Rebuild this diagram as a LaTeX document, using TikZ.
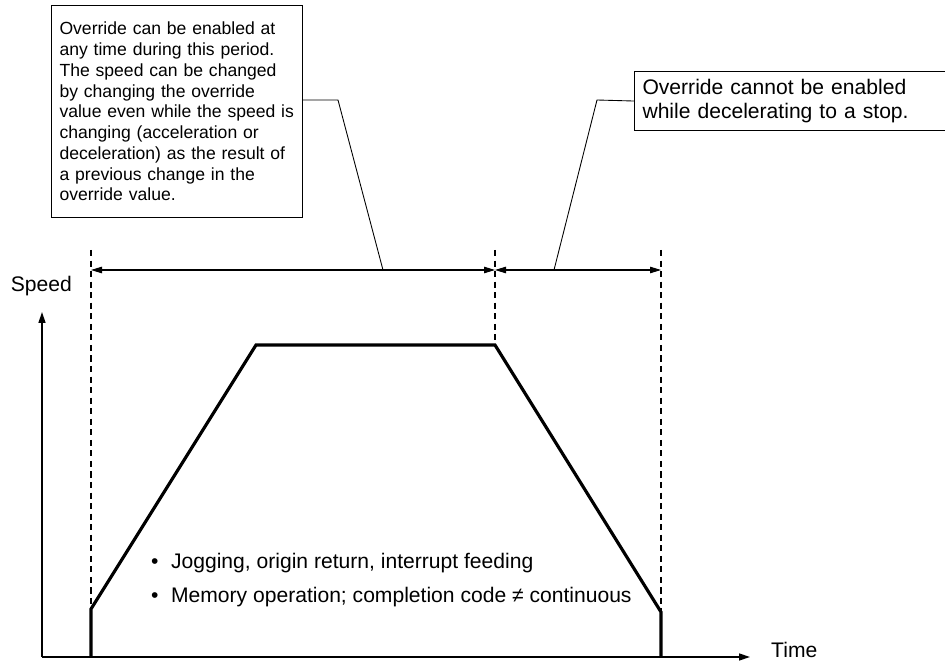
\documentclass[tikz,border=0pt]{standalone}
\usepackage{fontspec}
\setmainfont{Liberation Sans}
\usetikzlibrary{arrows.meta,positioning}

\begin{document}
\begin{tikzpicture}[
  font=\fontsize{12}{13.5}\selectfont,
  note/.style={draw, line width=0.6pt, align=left, anchor=north west, inner xsep=0.16cm},
  guide/.style={line width=0.9pt, dash pattern=on 3.5pt off 2.5pt},
  span/.style={line width=0.6pt, {Triangle[length=2.2mm,width=1.3mm]}-{Triangle[length=2.2mm,width=1.3mm]}},
  axis/.style={line width=0.8pt, -{Triangle[length=2.2mm,width=1.4mm]}},
  profile/.style={line width=1.8pt, line join=miter},
  leader/.style={line width=0.5pt}
]
\useasboundingbox (0,0) rectangle (18.9,13.3);

% notes
\node[note, minimum width=5.02cm, minimum height=4.24cm, text width=4.7cm,
      font=\fontsize{10}{11.8}\selectfont] (lbox) at (1.02,13.2)
  {Override can be enabled at\\
   any time during this period.\\
   The speed can be changed\\
   by changing the override\\
   value even while the speed is\\
   changing (acceleration or\\
   deceleration) as the result of\\
   a previous change in the\\
   override value.};
\node[note, minimum width=6.2cm, minimum height=1.18cm, text width=5.9cm] (rbox) at (12.68,11.88)
  {Override cannot be enabled\\
   while decelerating to a stop.};

% axes
\coordinate (o) at (0.84,0.16);
\coordinate (ytop) at (0.84,7.06);
\coordinate (xend) at (15.0,0.16);
\draw[axis] (o) -- (ytop);
\draw[axis] (o) -- (xend);
\node[anchor=east] (speed) at (1.56,7.58) {Speed};
\node[anchor=west] (time) at (15.3,0.3) {Time};

% guides
\coordinate (g1) at (1.82,8.3);
\coordinate (g2) at (9.9,8.3);
\coordinate (g3) at (13.22,8.3);
\coordinate (a1) at (1.82,7.9);
\coordinate (a2) at (9.9,7.9);
\coordinate (a3) at (13.22,7.9);
\draw[guide] (g1) -- (1.82,0.16);
\draw[guide] (g2) -- (9.9,6.38);
\draw[guide] (g3) -- (13.22,0.16);
\draw[span] (a1) -- (a2);
\draw[span] (a2) -- (a3);

% speed profile
\coordinate (p0) at (1.82,0.16);
\coordinate (p1) at (1.82,1.12);
\coordinate (p2) at (5.12,6.4);
\coordinate (p3) at (9.9,6.4);
\coordinate (p4) at (13.22,1.06);
\coordinate (p5) at (13.22,0.16);
\draw[profile] (p0) -- (p1) -- (p2) -- (p3) -- (p4) -- (p5);

% leaders
\coordinate (k1) at (6.76,11.3);
\coordinate (e1) at (7.66,7.9);
\coordinate (k2) at (11.94,11.3);
\coordinate (e2) at (11.08,7.9);
\draw[leader] (k1 -| lbox.east) -- (k1) -- (e1);
\draw[leader] (rbox.west) -- (k2) -- (e2);

% modes
\node[anchor=base west, align=left, font=\fontsize{12}{19.3}\selectfont] (modes) at (2.9,1.26)
  {•\hspace{0.25cm}Jogging, origin return, interrupt feeding\\
   •\hspace{0.25cm}Memory operation; completion code ≠ continuous};
\end{tikzpicture}
\end{document}
